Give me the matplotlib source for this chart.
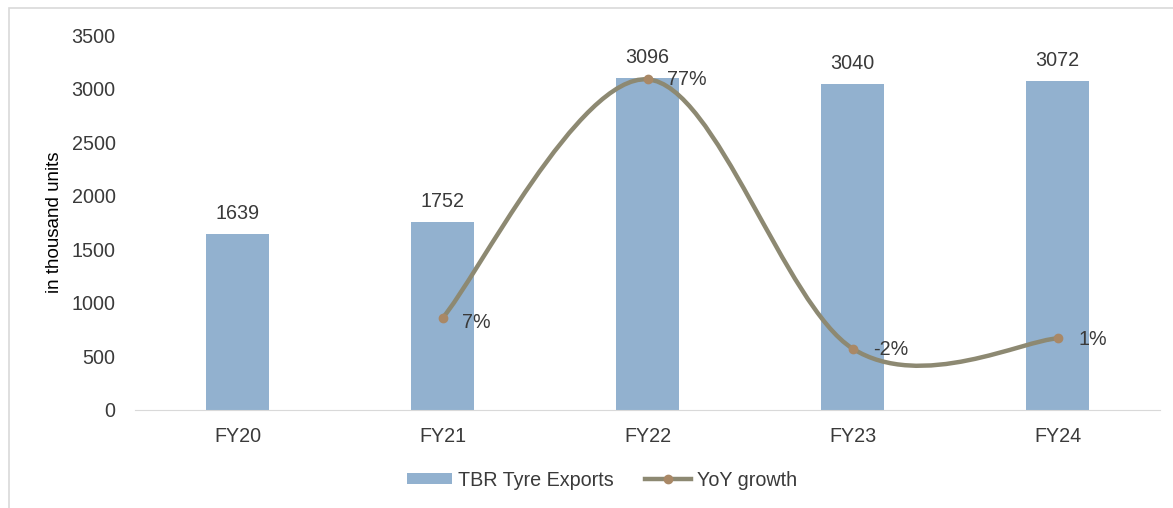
import numpy as np
import matplotlib
matplotlib.use("Agg")
import matplotlib.pyplot as plt
from matplotlib.path import Path
from matplotlib.patches import PathPatch, Rectangle
from matplotlib.lines import Line2D

plt.rcParams['font.family'] = ['Liberation Sans', 'DejaVu Sans']

# ==================== DATA ====================
years = ["FY20", "FY21", "FY22", "FY23", "FY24"]
exports = [1639, 1752, 3096, 3040, 3072]
growth_years = ["FY21", "FY22", "FY23", "FY24"]
growth = [7, 77, -2, 1]
growth_labels = ["7%", "77%", "-2%", "1%"]

bar_color = "#92B1CF"
line_color = "#8D8972"
marker_color = "#A98866"
text_color = "#3A3A3A"
fs = 14.2

fig = plt.figure(figsize=(11.73, 5.08), dpi=100)
ax = fig.add_axes([0.1151, 0.193, 0.874, 0.738])

x = np.arange(len(years))
ax.bar(x, exports, width=0.31, color=bar_color, zorder=2)
for xi, v in zip(x, exports):
    ax.annotate(str(v), (xi, v), xytext=(0, 8), textcoords="offset points",
                ha="center", va="bottom", fontsize=fs, color=text_color)

ax.set_xlim(-0.5, len(years) - 0.5)
ax.set_ylim(0, 3500)
ax.set_yticks(range(0, 3501, 500))
ax.set_xticks(x)
ax.set_xticklabels(years)
ax.tick_params(axis="both", length=0, labelsize=fs, colors=text_color)
ax.tick_params(axis="x", pad=12)
ax.tick_params(axis="y", pad=14)
for s in ["top", "right", "left"]:
    ax.spines[s].set_visible(False)
ax.spines["bottom"].set_color("#D9D9D9")
ax.set_ylabel("in thousand units", fontsize=13.5, color="#000000", labelpad=6)

# ==================== GROWTH LINE (secondary, hidden) ====================
ax2 = ax.twinx()
ax2.set_ylim(-20, 90)
ax2.axis("off")

gx = np.array([years.index(y) for y in growth_years], dtype=float)
gy = np.array(growth, dtype=float)
pts = np.column_stack([gx, gy])
# smoothed line like the spreadsheet, built from cubic bezier segments
ext = np.vstack([pts[0], pts, pts[-1]])
verts = [tuple(pts[0])]
codes = [Path.MOVETO]
for i in range(len(pts) - 1):
    p0, p1, p2, p3 = ext[i], ext[i + 1], ext[i + 2], ext[i + 3]
    c1 = p1 + (p2 - p0) / 6.0
    c2 = p2 - (p3 - p1) / 6.0
    verts += [tuple(c1), tuple(c2), tuple(p2)]
    codes += [Path.CURVE4] * 3
ax2.add_patch(PathPatch(Path(verts, codes), facecolor="none", edgecolor=line_color,
                        lw=3.2, capstyle="round", zorder=3))
ax2.plot(gx, gy, linestyle="none", marker="o", ms=6, color=marker_color, zorder=4)

offsets = [(14, -3), (14, 0), (15, -1), (15, -1)]
for xi, yi, lab, off in zip(gx, gy, growth_labels, offsets):
    ax2.annotate(lab, (xi, yi), xytext=off, textcoords="offset points",
                 ha="left", va="center", fontsize=fs, color=text_color)

# ==================== LEGEND ====================
handles = [Rectangle((0, 0), 1, 1, facecolor=bar_color),
           Line2D([], [], color=line_color, lw=3.2, marker="o", ms=6,
                  markerfacecolor=marker_color, markeredgecolor=marker_color)]
fig.legend(handles, ["TBR Tyre Exports", "YoY growth"], loc="center",
           bbox_to_anchor=(0.513, 0.055), ncol=2, frameon=False, fontsize=fs,
           handlelength=2.3, handleheight=0.5, handletextpad=0.3, columnspacing=1.6,
           labelcolor=text_color)

# light frame around the chart area
fig.patches.append(Rectangle((9 / 1173, -0.1), 1.2, 1 - 8 / 508 + 0.1,
                             transform=fig.transFigure, fill=False,
                             edgecolor="#D9D9D9", lw=1.2))

fig.savefig("out.png", dpi=100)
